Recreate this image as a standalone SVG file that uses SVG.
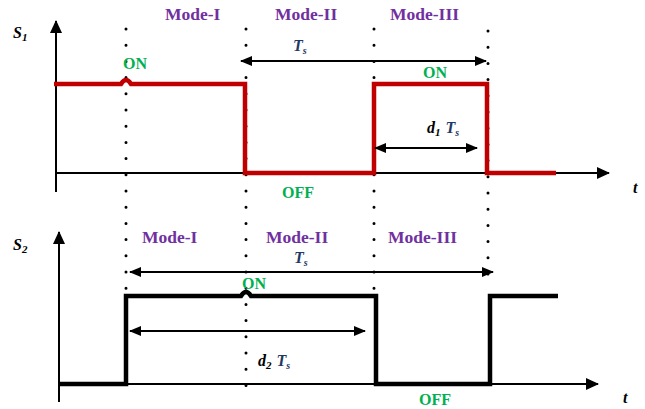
<svg xmlns="http://www.w3.org/2000/svg" width="645" height="409" viewBox="0 0 645 409">
<style>
.ax{stroke:#000;stroke-width:2;fill:none}
.dot{stroke:#000;stroke-width:3;stroke-linecap:round;stroke-dasharray:0 16.2;fill:none}
.arr{stroke:#000;stroke-width:2;fill:none;marker-start:url(#ah);marker-end:url(#ah)}
.red{stroke:#C00000;stroke-width:4.5;fill:none;stroke-linejoin:miter}
.blk{stroke:#000;stroke-width:4.5;fill:none;stroke-linejoin:miter}
.mode{font-size:17.5px;fill:#7030A0}
.st{font-size:16px;fill:#00B050;text-anchor:middle}
.var{font-style:italic;font-size:16px;fill:#000}
.ts{fill:#1F3864}
</style>
<defs>
<marker id="ah" viewBox="0 0 12 10" refX="11" refY="5" markerWidth="12" markerHeight="10" markerUnits="userSpaceOnUse" orient="auto-start-reverse">
<path d="M0,0 L12,5 L0,10 Z" fill="#000"/>
</marker>
<marker id="ax" viewBox="0 0 13 12" refX="12" refY="6" markerWidth="13" markerHeight="12" markerUnits="userSpaceOnUse" orient="auto">
<path d="M0,0 L13,6 L0,12 Z" fill="#000"/>
</marker>
</defs>

<g id="dotted-lines">
<line class="dot" x1="126" y1="29" x2="126" y2="290"/>
<line class="dot" x1="246" y1="29" x2="246" y2="386"/>
<line class="dot" x1="374" y1="29" x2="374" y2="290"/>
<line class="dot" x1="488" y1="31" x2="488" y2="280"/>
</g>

<g id="axes">
<line class="ax" x1="56" y1="192" x2="56" y2="21" marker-end="url(#ax)"/>
<line class="ax" x1="56" y1="173" x2="609" y2="173" marker-end="url(#ax)"/>
<line class="ax" x1="59" y1="402" x2="59" y2="232" marker-end="url(#ax)"/>
<line class="ax" x1="59" y1="384" x2="598" y2="384" marker-end="url(#ax)"/>
</g>

<g id="waveform-s1">
<path class="red" d="M54,84 H121 Q126,76 131,84 H245 V173 H374 V84 H487 V173 H556"/>
</g>
<g id="waveform-s2">
<path class="blk" d="M58,384 H126 V296 H241 Q246,288 251,296 H376 V384 H490 V296 H558"/>
</g>

<g id="connectors">
<line class="arr" x1="241" y1="61" x2="486" y2="61"/>
<line class="arr" x1="375" y1="148" x2="477" y2="148"/>
<line class="arr" x1="130" y1="272" x2="493" y2="272"/>
<line class="arr" x1="130" y1="331" x2="365" y2="331"/>
</g>

<g id="labels" font-family="Liberation Serif, Times New Roman, serif" font-weight="bold">
<text class="mode" x="165" y="20">Mode-I</text>
<text class="mode" x="275" y="20">Mode-II</text>
<text class="mode" x="390" y="20">Mode-III</text>
<text class="mode" x="142" y="243">Mode-I</text>
<text class="mode" x="266" y="243">Mode-II</text>
<text class="mode" x="388" y="243">Mode-III</text>

<text class="var" x="13" y="38">S<tspan font-size="11" dy="3">1</tspan></text>
<text class="var" x="13" y="250">S<tspan font-size="11" dy="3">2</tspan></text>
<text class="var ts" x="293" y="51">T<tspan font-size="10" dy="3">s</tspan></text>
<text class="var" x="427" y="133">d<tspan font-size="11" dy="3">1</tspan><tspan class="ts" dy="-3" dx="5">T</tspan><tspan class="ts" font-size="10" dy="3">s</tspan></text>
<text class="var ts" x="294" y="263">T<tspan font-size="10" dy="3">s</tspan></text>
<text class="var" x="258" y="366">d<tspan font-size="11" dy="3">2</tspan><tspan class="ts" dy="-3" dx="5">T</tspan><tspan class="ts" font-size="10" dy="3">s</tspan></text>
<text class="var" x="633" y="193">t</text>
<text class="var" x="623" y="403">t</text>

<text class="st" x="135" y="69">ON</text>
<text class="st" x="435" y="78">ON</text>
<text class="st" x="298" y="198">OFF</text>
<text class="st" x="254" y="289">ON</text>
<text class="st" x="435" y="405" font-size="15">OFF</text>
</g>
</svg>
